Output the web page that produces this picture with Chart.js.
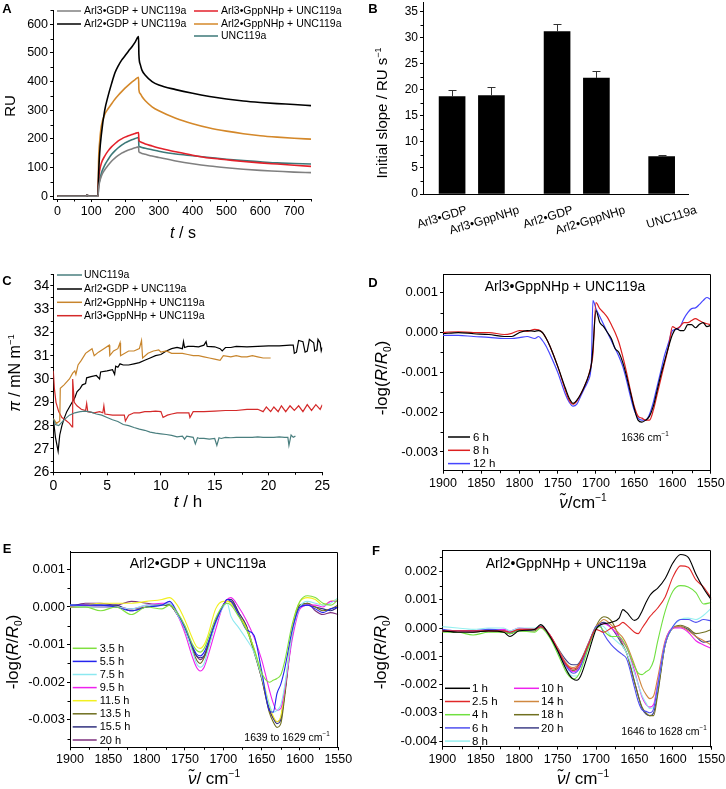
<!DOCTYPE html>
<html><head><meta charset="utf-8">
<script src="https://cdn.jsdelivr.net/npm/chart.js@4.4.1/dist/chart.umd.min.js"></script>
<style>
html,body{margin:0;padding:0;background:#fff;}
body{width:726px;height:789px;position:relative;overflow:hidden;font-family:"Liberation Sans",Arial,sans-serif;color:#000;}
canvas{position:absolute;}
.t{position:absolute;white-space:nowrap;transform:translate(-50%,-50%);line-height:1;}
.r{transform:translate(-50%,-50%) rotate(-90deg);}
.L{font-weight:bold;font-size:13px;}
sup,sub{font-size:60%;line-height:0;}
</style></head><body>
<canvas id="cA" width="363" height="245" style="left:0px;top:0px"></canvas>
<canvas id="cB" width="363" height="270" style="left:363px;top:0px"></canvas>
<canvas id="cC" width="363" height="250" style="left:0px;top:270px"></canvas>
<canvas id="cD" width="363" height="260" style="left:363px;top:270px"></canvas>
<canvas id="cE" width="363" height="259" style="left:0px;top:530px"></canvas>
<canvas id="cF" width="363" height="259" style="left:363px;top:530px"></canvas>

<div class="t L" style="left:7px;top:8px">A</div>
<div class="t L" style="left:373px;top:8px">B</div>
<div class="t L" style="left:7px;top:280px">C</div>
<div class="t L" style="left:373px;top:282px">D</div>
<div class="t L" style="left:7px;top:548px">E</div>
<div class="t L" style="left:376px;top:550px">F</div>

<div class="t r" style="left:9px;top:106px;font-size:15px">RU</div>
<div class="t" style="left:183px;top:233px;font-size:16px"><i>t</i> / s</div>
<div class="t r" style="left:381px;top:113px;font-size:15px">Initial slope / RU s<sup>−1</sup></div>
<div class="t r" style="left:15px;top:373px;font-size:16px"><i>π</i> / mN m<sup>−1</sup></div>
<div class="t" style="left:188px;top:501px;font-size:17px"><i>t</i> / h</div>
<div class="t r" style="left:381px;top:378px;font-size:17px">-log(<i>R</i>/<i>R</i><sub>0</sub>)</div>
<div class="t" style="left:583px;top:502px;font-size:17px"><i>ν&#771;</i>/cm<sup>−1</sup></div>
<div class="t r" style="left:12px;top:652px;font-size:17px">-log(<i>R</i>/<i>R</i><sub>0</sub>)</div>
<div class="t" style="left:214px;top:778px;font-size:17px"><i>ν&#771;</i>/ cm<sup>−1</sup></div>
<div class="t r" style="left:380px;top:652px;font-size:17px">-log(<i>R</i>/<i>R</i><sub>0</sub>)</div>
<div class="t" style="left:583px;top:778px;font-size:17px"><i>ν&#771;</i>/ cm<sup>−1</sup></div>

<div class="t" style="left:565px;top:286px;font-size:14px">Arl3•GppNHp + UNC119a</div>
<div class="t" style="left:198px;top:563px;font-size:14px">Arl2•GDP + UNC119a</div>
<div class="t" style="left:566px;top:563px;font-size:14px">Arl2•GppNHp + UNC119a</div>
<div class="t" style="left:645px;top:437px;font-size:10.5px">1636 cm<sup>−1</sup></div>
<div class="t" style="left:287px;top:737px;font-size:10.5px">1639 to 1629 cm<sup>−1</sup></div>
<div class="t" style="left:664px;top:731px;font-size:10.5px">1646 to 1628 cm<sup>−1</sup></div>

<script>
const FONT = '"Liberation Sans", Arial, sans-serif';

// ===== Panel A : SPR sensorgrams =====
const A_time = [0,85,88,91,119, 120,122,125,130, 140,150,160,170,180,190,200,210,220,230,240, 241,245,250,260,280,300, 350,400,450,500,550,600,650,700,750];
const A_arl3GDP     = [0,0,5,0,0, 0,30,50,70, 92,108,122,133,142,150,156,161,165,169,172, 155,152,149,146,140,135, 123,113,105,99,94,90,87,84,82];
const A_arl2GDP     = [0,0,5,0,0, 0,80,150,215, 300,350,392,430,455,475,490,506,521,538,557, 495,460,440,422,400,388, 372,359,348,339,332,327,323,320,316];
const A_arl3GppNHp  = [0,0,5,0,0, 0,60,90,115, 140,158,172,183,193,200,206,211,215,219,222, 195,190,187,182,175,168, 155,143,133,127,121,116,112,108,104];
const A_arl2GppNHp  = [0,0,5,0,0, 0,130,190,245, 285,305,322,338,352,365,377,388,398,407,415, 372,358,348,333,312,298, 272,253,238,227,218,211,206,202,199];
const A_unc119a     = [0,0,5,0,0, 0,35,55,80, 108,128,145,158,169,178,186,192,197,201,205, 175,172,170,167,162,157, 147,141,135,129,124,120,116,114,112];
const A_xTicks = [0,100,200,300,400,500,600,700];
const A_yTicks = [0,100,200,300,400,500,600];

// ===== Panel B : initial slopes =====
const B_categories = ['Arl3•GDP','Arl3•GppNHp','Arl2•GDP','Arl2•GppNHp','UNC119a'];
const B_slope = [18.7, 18.9, 31.2, 22.3, 7.2];
const B_error = [1.3, 1.6, 1.4, 1.3, 0.2];
const B_positions = [1, 2, 3.67, 4.67, 6.33];
const B_yTicks = [0,5,10,15,20,25,30,35];

// ===== Panel C : surface pressure =====
const C_unc_t = [0,0.2,0.5,1,1.5, 2,2.5,3,3.5,4, 4.5,5,5.5,6,6.5, 7,7.5,8,8.5,9, 9.5,10,10.5,11,11.5, 12,12.2,12.4,13,13.2, 13.4,13.6,14,14.5,15, 15.2,15.4,15.6,16,16.5, 17,17.5,18,18.5,19, 19.5,20,20.5,21,21.5, 21.8,21.9,22.1,22.3,22.5];
const C_unc   = [28.3,28.05,28.0,28.25,28.45, 28.55,28.6,28.62,28.58,28.5, 28.45,28.35,28.25,28.18,28.05, 28.0,27.92,27.85,27.8,27.72, 27.68,27.65,27.62,27.58,27.52, 27.55,27.42,27.55,27.5,27.22, 27.48,27.45,27.45,27.42,27.45, 27.15,27.48,27.45,27.5,27.48, 27.5,27.5,27.5,27.5,27.52, 27.5,27.5,27.5,27.52,27.5, 27.5,27.15,27.6,27.5,27.55];
const C_arl2GDP_t = [0,0.2,0.45,0.6,0.8, 1.0,1.25,1.5,1.75,2.0, 2.2,2.5,2.7,3.0,3.1, 3.5,4.0,4.3,4.4,5.0, 5.5,5.7,5.8,6.0,6.2, 6.5,7,7.5,8,8.5, 9,9.5,10,10.5,11, 11.5,12,12.1,12.2,12.5, 13,13.5,14,14.2,14.3, 15,15.5,15.7,16,16.5, 17,18,19,20,21, 22,22.3,22.4,22.6,22.8, 23.2,23.4,23.6,23.8,24.2, 24.3,24.5,24.6,24.8,24.9, 25];
const C_arl2GDP   = [28.3,27.5,26.9,27.6,28.0, 28.3,28.6,28.8,29.0,29.2, 29.45,29.6,29.75,29.8,30.05, 30.1,30.15,30.0,30.3,30.35, 30.4,30.2,30.55,30.5,30.65, 30.6,30.6,30.65,30.7,30.8, 30.9,31.0,31.05,31.2,31.3, 31.35,31.3,31.6,31.35,31.4, 31.4,31.38,31.45,31.6,31.4, 31.38,31.3,31.2,31.35,31.35, 31.4,31.38,31.4,31.42,31.42, 31.45,31.45,31.1,31.15,31.65, 31.6,31.15,31.2,31.7,31.55, 31.2,31.25,31.7,31.55,31.2, 31.35];
const C_arl2Gpp_t = [0,0.3,0.6,0.65,1.0, 1.5,1.8,2.0,2.1,2.3, 2.6,3.0,3.3,3.6,3.8, 4.2,4.7,5.2,5.25,5.6, 6.0,6.2,6.25,7.0,7.5, 8.0,8.2,8.3,8.8,9.3, 9.8,10,10.5,11,12, 12.5,13,13.5,14,14.5, 15,15.5,15.8,16.5,17, 17.5,18,18.5,19,19.5, 20.2];
const C_arl2Gpp   = [28.3,28.1,28.2,29.6,29.75, 30.0,30.25,30.35,30.2,30.6, 30.8,31.1,31.2,31.3,31.0, 31.15,31.3,31.45,31.0,31.2, 31.3,31.55,31.0,31.2,31.2, 31.3,31.65,30.9,31.1,31.2, 31.25,31.15,31.2,31.1,31.1, 31.05,31.0,31.0,30.95,30.9, 30.85,30.8,31.0,30.95,31.0, 30.95,30.95,31.0,30.95,30.9, 30.9];
const C_arl3Gpp_t = [0,0.1,0.25,0.5,0.8, 1.1,1.5,1.75,1.8,1.95, 2.2,2.6,3.0,3.1,3.2, 3.8,4.3,4.6,4.7,4.8, 5.5,6.2,6.6,6.7,7.0, 7.5,8.0,8.5,9,9.5, 10,10.2,10.6,11,11.5, 12,12.6,12.7,13,14, 15,16,17,18,19, 19.5,19.8,20.2,20.5,20.9, 21.2,21.6,22,22.4,22.8, 23.2,23.6,24,24.4,24.8, 25];
const C_arl3Gpp   = [30.35,29.6,29.0,28.6,28.35, 28.25,28.1,27.95,30.0,29.0, 28.85,28.7,28.65,28.95,28.6, 28.55,28.6,28.55,28.85,28.5, 28.45,28.45,28.45,28.2,28.45, 28.55,28.55,28.6,28.6,28.62, 28.6,28.35,28.45,28.5,28.55, 28.55,28.55,28.35,28.6,28.6, 28.62,28.65,28.65,28.7,28.7, 28.6,28.8,28.6,28.8,28.6, 28.85,28.6,28.85,28.65,28.85, 28.6,28.9,28.65,28.9,28.7, 28.9];
const C_xTicks = [0,5,10,15,20,25];
const C_yTicks = [26,27,28,29,30,31,32,33,34];

// ===== Panel D : IRRAS Arl3•GppNHp + UNC119a =====
const D_wavenumber = [1900,1880,1860,1840,1820, 1810,1800,1790,1780,1775, 1770,1765,1760,1750,1740, 1735,1730,1725,1720,1715, 1710,1706,1704,1700,1695, 1690,1685,1680,1675,1670, 1665,1660,1655,1650,1645, 1640,1635,1630,1625,1620, 1615,1610,1605,1600,1595, 1590,1585,1580,1575,1570, 1565,1560,1555,1550];
const D_6h  = [-0.03e-3,0,-0.03e-3,-0.05e-3,-0.1e-3, -0.1e-3,0,0.05e-3,0.03e-3,0.05e-3, 0,-0.15e-3,-0.35e-3,-0.85e-3,-1.4e-3, -1.65e-3,-1.78e-3,-1.7e-3,-1.55e-3,-1.35e-3, -1.1e-3,-0.8e-3,-0.4e-3,0.55e-3,0.25e-3, 0.15e-3,0,-0.15e-3,-0.4e-3,-0.5e-3, -0.75e-3,-1.1e-3,-1.5e-3,-1.9e-3,-2.2e-3, -2.25e-3,-2.2e-3,-2.1e-3,-1.85e-3,-1.45e-3, -1.05e-3,-0.7e-3,-0.35e-3,-0.05e-3,0.1e-3, 0.05e-3,0.05e-3,0.2e-3,0.2e-3,0.12e-3, 0.2e-3,0.25e-3,0.15e-3,0.18e-3];
const D_8h  = [0,0.02e-3,0,0,-0.05e-3, -0.02e-3,0.05e-3,0.03e-3,0.08e-3,0.07e-3, 0,-0.15e-3,-0.35e-3,-0.85e-3,-1.45e-3, -1.7e-3,-1.8e-3,-1.72e-3,-1.55e-3,-1.35e-3, -1.1e-3,-0.8e-3,-0.55e-3,0.75e-3,0.6e-3, 0.5e-3,0.38e-3,0.2e-3,0,-0.25e-3, -0.6e-3,-1.0e-3,-1.45e-3,-1.85e-3,-2.1e-3, -2.15e-3,-2.2e-3,-2.2e-3,-1.95e-3,-1.55e-3, -1.15e-3,-0.75e-3,-0.35e-3,0.15e-3,0.1e-3, 0.15e-3,0.25e-3,0.25e-3,0.3e-3,0.35e-3, 0.3e-3,0.25e-3,0.22e-3,0.2e-3];
const D_12h = [-0.07e-3,-0.07e-3,-0.1e-3,-0.12e-3,-0.15e-3, -0.15e-3,-0.13e-3,-0.1e-3,-0.15e-3,-0.1e-3, -0.2e-3,-0.35e-3,-0.55e-3,-1.0e-3,-1.55e-3, -1.75e-3,-1.85e-3,-1.8e-3,-1.6e-3,-1.4e-3, -1.2e-3,-0.75e-3,0.8e-3,0.6e-3,0.4e-3, 0.2e-3,0,-0.2e-3,-0.4e-3,-0.6e-3, -0.85e-3,-1.2e-3,-1.6e-3,-1.95e-3,-2.15e-3, -2.2e-3,-2.2e-3,-2.05e-3,-1.75e-3,-1.35e-3, -0.95e-3,-0.55e-3,-0.25e-3,0.05e-3,0.08e-3, 0.15e-3,0.35e-3,0.5e-3,0.6e-3,0.62e-3, 0.7e-3,0.8e-3,0.88e-3,0.83e-3];

// ===== Panel E : IRRAS Arl2•GDP + UNC119a =====
const E_wavenumber = [1900,1880,1860,1840,1820, 1800,1780,1770,1760,1750, 1740,1735,1730,1725,1720, 1710,1700,1695,1690,1680, 1670,1660,1650,1640,1635, 1630,1625,1620,1610,1600, 1590,1580,1570,1560,1550];
const E_3_5h  = [0,0,-0.1e-3,0,-0.2e-3, 0,-0.05e-3,0.05e-3,-0.15e-3,-0.5e-3, -1.0e-3,-1.15e-3,-1.2e-3,-1.1e-3,-0.85e-3, -0.3e-3,0.05e-3,0.1e-3,0.05e-3,-0.25e-3, -0.6e-3,-1.1e-3,-1.75e-3,-2.0e-3,-1.95e-3, -1.9e-3,-1.8e-3,-1.45e-3,-0.45e-3,0.15e-3, 0.3e-3,0.25e-3,0.1e-3,0.05e-3,0.2e-3];
const E_5_5h  = [0.05e-3,0.05e-3,0.05e-3,0,-0.1e-3, 0,0.05e-3,0.15e-3,-0.15e-3,-0.55e-3, -1.05e-3,-1.25e-3,-1.3e-3,-1.2e-3,-0.95e-3, -0.4e-3,0.05e-3,0.2e-3,0.15e-3,-0.2e-3, -0.6e-3,-0.75e-3,-1.7e-3,-2.75e-3,-2.8e-3, -2.3e-3,-2.05e-3,-1.65e-3,-0.6e-3,0, 0.05e-3,-0.05e-3,-0.15e-3,-0.05e-3,0];
const E_7_5h  = [0.05e-3,0,0,0,-0.05e-3, 0.05e-3,0.05e-3,0.1e-3,-0.2e-3,-0.6e-3, -1.2e-3,-1.5e-3,-1.6e-3,-1.5e-3,-1.15e-3, -0.45e-3,0,0.1e-3,-0.25e-3,-0.55e-3, -0.85e-3,-1.2e-3,-1.85e-3,-2.6e-3,-2.8e-3, -2.75e-3,-2.6e-3,-2.1e-3,-0.7e-3,0, 0.15e-3,0.1e-3,0.05e-3,0.1e-3,0.25e-3];
const E_9_5h  = [0,0.05e-3,0,0,-0.05e-3, 0.05e-3,0.1e-3,0.1e-3,-0.2e-3,-0.7e-3, -1.35e-3,-1.6e-3,-1.7e-3,-1.6e-3,-1.3e-3, -0.6e-3,0.05e-3,0.2e-3,0.25e-3,0, -0.35e-3,-0.8e-3,-1.4e-3,-2.2e-3,-2.55e-3, -2.75e-3,-2.7e-3,-2.2e-3,-0.85e-3,-0.05e-3, 0.05e-3,0.05e-3,0,0.15e-3,0.15e-3];
const E_11_5h = [0,0.05e-3,0.1e-3,0.1e-3,0.1e-3, 0.15e-3,0.2e-3,0.25e-3,0.05e-3,-0.35e-3, -0.85e-3,-1.05e-3,-1.1e-3,-1.0e-3,-0.75e-3, -0.05e-3,0.15e-3,0.15e-3,0.1e-3,-0.2e-3, -0.55e-3,-1.1e-3,-1.8e-3,-2.6e-3,-2.9e-3, -3.05e-3,-2.9e-3,-2.2e-3,-0.55e-3,0.15e-3, 0.25e-3,0.2e-3,0.05e-3,0.15e-3,0.2e-3];
const E_13_5h = [0,0,0,0,-0.05e-3, 0,0.05e-3,0.05e-3,-0.2e-3,-0.6e-3, -1.15e-3,-1.4e-3,-1.5e-3,-1.35e-3,-1.1e-3, -0.4e-3,0.05e-3,0.15e-3,0.15e-3,-0.2e-3, -0.55e-3,-1.2e-3,-1.9e-3,-2.8e-3,-3.05e-3, -3.2e-3,-3.1e-3,-2.4e-3,-0.7e-3,0.05e-3, 0.1e-3,0,-0.1e-3,-0.05e-3,0.05e-3];
const E_15_5h = [0.05e-3,0.05e-3,0.05e-3,0.05e-3,-0.1e-3, 0,0.05e-3,0.05e-3,-0.2e-3,-0.6e-3, -1.1e-3,-1.3e-3,-1.35e-3,-1.3e-3,-1.05e-3, -0.4e-3,0.05e-3,0.2e-3,0.2e-3,-0.15e-3, -0.5e-3,-1.15e-3,-1.85e-3,-2.7e-3,-2.95e-3, -3.1e-3,-3.0e-3,-2.3e-3,-0.65e-3,0.05e-3, 0.05e-3,0,-0.05e-3,-0.1e-3,0];
const E_20h   = [0,0.1e-3,0.1e-3,0.05e-3,0.15e-3, 0.1e-3,0.05e-3,0.05e-3,-0.2e-3,-0.55e-3, -1.1e-3,-1.3e-3,-1.4e-3,-1.3e-3,-1.0e-3, -0.35e-3,0.05e-3,0.2e-3,0.2e-3,-0.15e-3, -0.5e-3,-1.15e-3,-1.9e-3,-2.75e-3,-2.95e-3, -3.05e-3,-2.95e-3,-2.3e-3,-0.65e-3,0.05e-3, 0.1e-3,-0.1e-3,-0.2e-3,-0.15e-3,-0.2e-3];

// ===== Panel F : IRRAS Arl2•GppNHp + UNC119a =====
const F_wavenumber = [1900,1880,1860,1840,1820, 1812,1800,1780,1772,1760, 1750,1740,1735,1730,1725, 1720,1710,1700,1695,1690, 1680,1670,1665,1660,1650, 1645,1640,1635,1630,1625, 1620,1610,1600,1590,1580, 1570,1560,1550];
const F_1h   = [-0.1e-3,-0.15e-3,-0.15e-3,-0.1e-3,-0.15e-3, -0.3e-3,-0.1e-3,-0.05e-3,0.12e-3,-0.3e-3, -0.8e-3,-1.4e-3,-1.65e-3,-1.8e-3,-1.85e-3, -1.7e-3,-0.9e-3,-0.05e-3,0.1e-3,0.15e-3, 0.2e-3,0.35e-3,0.65e-3,0.55e-3,0.27e-3, 0.35e-3,0.6e-3,0.9e-3,1.15e-3,1.3e-3, 1.4e-3,1.75e-3,2.3e-3,2.6e-3,2.5e-3, 1.9e-3,1.4e-3,1.0e-3];
const F_2_5h = [-0.1e-3,-0.1e-3,-0.1e-3,-0.1e-3,-0.1e-3, -0.15e-3,-0.05e-3,-0.05e-3,0.05e-3,-0.25e-3, -0.75e-3,-1.25e-3,-1.4e-3,-1.45e-3,-1.4e-3, -1.2e-3,-0.6e-3,-0.05e-3,-0.1e-3,-0.15e-3, 0,0.1e-3,0.2e-3,0.1e-3,-0.15e-3, -0.2e-3,0,0.2e-3,0.4e-3,0.55e-3, 0.7e-3,1.1e-3,1.8e-3,2.2e-3,2.15e-3, 1.7e-3,1.45e-3,1.05e-3];
const F_4h   = [-0.15e-3,-0.15e-3,-0.25e-3,-0.15e-3,-0.15e-3, -0.2e-3,-0.1e-3,-0.15e-3,0,-0.35e-3, -0.9e-3,-1.5e-3,-1.7e-3,-1.8e-3,-1.75e-3, -1.5e-3,-0.7e-3,0,0.05e-3,-0.1e-3, -0.3e-3,-0.3e-3,-0.45e-3,-0.7e-3,-1.35e-3, -1.6e-3,-1.65e-3,-1.55e-3,-1.45e-3,-1.15e-3, -0.5e-3,0.6e-3,1.3e-3,1.5e-3,1.45e-3, 1.25e-3,0.85e-3,0.9e-3];
const F_6h   = [-0.05e-3,-0.1e-3,-0.1e-3,-0.05e-3,-0.1e-3, -0.15e-3,-0.1e-3,-0.05e-3,0.05e-3,-0.3e-3, -0.8e-3,-1.3e-3,-1.5e-3,-1.6e-3,-1.55e-3, -1.35e-3,-0.6e-3,0.05e-3,0.1e-3,-0.2e-3, -0.6e-3,-0.85e-3,-0.95e-3,-1.1e-3,-2.1e-3, -2.6e-3,-2.9e-3,-2.95e-3,-3.0e-3,-2.85e-3, -2.1e-3,-0.55e-3,0.05e-3,0.3e-3,0.3e-3, 0.2e-3,0.3e-3,0.25e-3];
const F_8h   = [0.05e-3,0,-0.05e-3,0,0, -0.1e-3,0,0,0.1e-3,-0.3e-3, -0.85e-3,-1.4e-3,-1.6e-3,-1.7e-3,-1.7e-3, -1.5e-3,-0.7e-3,0,0.1e-3,0.05e-3, -0.3e-3,-0.55e-3,-0.65e-3,-0.9e-3,-1.6e-3, -2.0e-3,-2.4e-3,-2.65e-3,-2.85e-3,-2.8e-3, -2.1e-3,-0.55e-3,0.05e-3,0.3e-3,0.35e-3, 0.3e-3,0.45e-3,0.7e-3];
const F_10h  = [-0.1e-3,-0.1e-3,-0.1e-3,-0.1e-3,-0.05e-3, -0.1e-3,0,-0.05e-3,0.05e-3,-0.25e-3, -0.75e-3,-1.25e-3,-1.45e-3,-1.55e-3,-1.5e-3, -1.3e-3,-0.6e-3,0,0.1e-3,0.15e-3, 0,-0.3e-3,-0.5e-3,-0.7e-3,-1.5e-3, -2.0e-3,-2.45e-3,-2.7e-3,-2.8e-3,-2.7e-3, -2.0e-3,-0.5e-3,0,0,-0.15e-3, -0.45e-3,-0.6e-3,-0.72e-3];
const F_14h  = [-0.1e-3,-0.1e-3,-0.1e-3,-0.1e-3,-0.1e-3, -0.15e-3,-0.05e-3,-0.05e-3,0.05e-3,-0.25e-3, -0.7e-3,-1.2e-3,-1.35e-3,-1.4e-3,-1.35e-3, -1.2e-3,-0.55e-3,0.05e-3,0.2e-3,0.3e-3, 0.1e-3,-0.2e-3,-0.35e-3,-0.6e-3,-1.3e-3, -1.7e-3,-2.1e-3,-2.35e-3,-2.5e-3,-2.4e-3, -1.8e-3,-0.45e-3,0,0.05e-3,-0.1e-3, -0.3e-3,-0.45e-3,-0.6e-3];
const F_18h  = [-0.1e-3,-0.1e-3,-0.15e-3,-0.1e-3,-0.15e-3, -0.2e-3,-0.1e-3,-0.1e-3,0.05e-3,-0.3e-3, -0.75e-3,-1.3e-3,-1.45e-3,-1.5e-3,-1.45e-3, -1.3e-3,-0.65e-3,0.05e-3,0.3e-3,0.4e-3, 0.25e-3,-0.3e-3,-0.6e-3,-0.9e-3,-1.9e-3, -2.4e-3,-2.8e-3,-3.0e-3,-3.1e-3,-3.1e-3, -2.4e-3,-0.6e-3,0,0.1e-3,0, -0.2e-3,-0.15e-3,-0.05e-3];
const F_20h  = [-0.1e-3,-0.1e-3,-0.1e-3,-0.1e-3,-0.1e-3, -0.2e-3,-0.05e-3,-0.05e-3,0.1e-3,-0.25e-3, -0.7e-3,-1.1e-3,-1.25e-3,-1.3e-3,-1.3e-3, -1.15e-3,-0.55e-3,0.05e-3,0.15e-3,0.2e-3, 0,-0.4e-3,-0.65e-3,-0.9e-3,-1.9e-3, -2.4e-3,-2.85e-3,-3.05e-3,-3.1e-3,-3.0e-3, -2.3e-3,-0.6e-3,0,0.05e-3,-0.05e-3, -0.3e-3,-0.5e-3,-0.45e-3];

const IR_xTicks = [1900,1850,1800,1750,1700,1650,1600,1550];
const DE_yTicks = [0.001,0,-0.001,-0.002,-0.003];
const F_yTicks  = [0.002,0.001,0,-0.001,-0.002,-0.003,-0.004];

// ===== decorations (layout only) =====
const DECOR = {
  cA: {minor: true, legend: {size: 10.5, len: 24, gap: 3, items: [{ds:0,x:57,y:11},{ds:1,x:57,y:24},{ds:2,x:194,y:11},{ds:3,x:194,y:24},{ds:4,x:194,y:36}]}},
  cB: {minorY: true, err: B_error, catLabels: {size: 12, angle: 17, y: 210, shift: [-10, -7, -9, -6, 10]}},
  cC: {minor: true, legend: {size: 10.5, len: 25, gap: 2, items: [{ds:0,x:57,y:5},{ds:3,x:57,y:19},{ds:1,x:57,y:32.3},{ds:2,x:57,y:45.7}]}},
  cD: {minor: true, box: true, legend: {size: 11.5, len: 22, gap: 3, items: [{ds:0,x:85,y:167},{ds:1,x:85,y:180.3},{ds:2,x:85,y:193.6}]}},
  cE: {minor: true, box: true, legend: {size: 11, len: 24, gap: 3, items: [0,1,2,3,4,5,6,7].map(i => ({ds:i, x:72.7, y:118.3 + 13.1*i}))}},
  cF: {minor: true, box: true, legend: {size: 11.5, len: 25, gap: 2, items: [0,1,2,3,4].map(i => ({ds:i, x:82, y:158.3 + 13.2*i})).concat([5,6,7,8].map(i => ({ds:i, x:151, y:158.3 + 13.2*(i-5)})))}}
};

const decorPlugin = {
  id: 'decor',
  afterDatasetsDraw(chart) {
    const d = DECOR[chart.canvas.id]; if (!d || !d.err) return;
    const ctx = chart.ctx, ys = chart.scales.y, meta = chart.getDatasetMeta(0);
    ctx.save(); ctx.strokeStyle = '#333'; ctx.lineWidth = 1; ctx.beginPath();
    meta.data.forEach((bar, i) => {
      const v = chart.data.datasets[0].data[i].y;
      const top = Math.round(ys.getPixelForValue(v + d.err[i])) + 0.5;
      const x = Math.round(bar.x) + 0.5;
      ctx.moveTo(x, bar.y); ctx.lineTo(x, top);
      ctx.moveTo(x - 4, top); ctx.lineTo(x + 4, top);
    });
    ctx.stroke(); ctx.restore();
  },
  afterDraw(chart) {
    const d = DECOR[chart.canvas.id]; if (!d) return;
    const ctx = chart.ctx, a = chart.chartArea;
    ctx.save(); ctx.strokeStyle = '#000'; ctx.lineWidth = 1;
    if (d.box) {
      const l = Math.round(a.left) + 0.5, t = Math.round(a.top) + 0.5, r = Math.round(a.right) - 0.5, b = Math.round(a.bottom) + 0.5;
      ctx.beginPath(); ctx.moveTo(l, t); ctx.lineTo(r, t); ctx.lineTo(r, b); ctx.stroke();
    }
    const ids = d.minor ? ['x','y'] : (d.minorY ? ['y'] : []);
    ids.forEach(id => {
      const s = chart.scales[id];
      const maj = s.ticks.map(t => t.value).sort((p, q) => p - q);
      const step = maj[1] - maj[0];
      const lo = Math.min(s.min, s.max), hi = Math.max(s.min, s.max);
      ctx.beginPath();
      for (let k = -1; k < maj.length; k++) {
        const v = maj[0] + step * (k + 0.5);
        if (v < lo || v > hi) continue;
        const p = Math.round(s.getPixelForValue(v)) + 0.5;
        if (s.isHorizontal()) { ctx.moveTo(p, s.top); ctx.lineTo(p, s.top + 2.5); }
        else { ctx.moveTo(s.right, p); ctx.lineTo(s.right - 2.5, p); }
      }
      ctx.stroke();
    });
    if (d.catLabels) {
      const c = d.catLabels, xs = chart.scales.x, th = c.angle * Math.PI / 180;
      ctx.font = c.size + 'px ' + FONT; ctx.fillStyle = '#000'; ctx.textAlign = 'center'; ctx.textBaseline = 'middle';
      B_categories.forEach((name, i) => {
        const w = ctx.measureText(name).width;
        const xc = xs.getPixelForValue(B_positions[i]) + c.shift[i];
        const yc = c.y + w * Math.sin(th) / 2;
        ctx.save(); ctx.translate(xc, yc); ctx.rotate(-th); ctx.fillText(name, 0, 0); ctx.restore();
      });
    }
    if (d.legend) {
      const L = d.legend;
      ctx.font = L.size + 'px ' + FONT; ctx.textBaseline = 'middle'; ctx.textAlign = 'left'; ctx.fillStyle = '#000';
      L.items.forEach(it => {
        const ds = chart.data.datasets[it.ds];
        ctx.strokeStyle = ds.borderColor; ctx.lineWidth = 1.5;
        ctx.beginPath(); ctx.moveTo(it.x, it.y); ctx.lineTo(it.x + L.len, it.y); ctx.stroke();
        ctx.fillText(ds.label, it.x + L.len + L.gap, it.y + 0.5);
      });
    }
    ctx.restore();
  }
};
Chart.register(decorPlugin);

function pts(xs, ys) { return xs.map((x, i) => ({x: x, y: ys[i]})); }
function line(label, xs, ys, color, w, smooth) {
  return {label: label, data: pts(xs, ys), borderColor: color, backgroundColor: color, borderWidth: w,
          pointRadius: 0, fill: false, tension: 0, cubicInterpolationMode: smooth ? 'monotone' : 'default'};
}
function axis(o) {
  const horiz = o.pos === 'bottom';
  return {
    type: 'linear', position: o.pos, min: o.min, max: o.max, reverse: !!o.reverse, offset: false,
    afterBuildTicks: s => { s.ticks = o.ticks.map(v => ({value: v})); },
    afterFit: horiz ? (s => { s.height = o.size; s.paddingLeft = 0; s.paddingRight = 0; })
                    : (s => { s.width = o.size; s.paddingTop = 0; s.paddingBottom = 0; }),
    ticks: {display: o.labels !== false, autoSkip: false, maxRotation: 0, minRotation: 0, padding: o.pad === undefined ? 2 : o.pad,
            color: '#000', font: {family: FONT, size: o.fs}, callback: o.fmt || (v => String(v))},
    grid: {display: o.marks !== false, offset: false, drawOnChartArea: false, drawTicks: true, tickLength: 3, color: '#000', lineWidth: 1},
    border: {display: true, color: '#000', width: 1}
  };
}
function opts(padding, x, y) {
  return {responsive: false, animation: false, devicePixelRatio: 1, events: [],
          layout: {padding: padding}, scales: {x: x, y: y},
          plugins: {legend: {display: false}, tooltip: {enabled: false}, title: {display: false}}};
}
const irFmt = v => v.toFixed(3);

// Panel A
new Chart(document.getElementById('cA'), {type: 'line', data: {datasets: [
  line('Arl3•GDP + UNC119a', A_time, A_arl3GDP, '#808080', 1.6, true),
  line('Arl2•GDP + UNC119a', A_time, A_arl2GDP, '#000000', 1.6, true),
  line('Arl3•GppNHp + UNC119a', A_time, A_arl3GppNHp, '#e3212b', 1.6, true),
  line('Arl2•GppNHp + UNC119a', A_time, A_arl2GppNHp, '#d4882a', 1.6, true),
  line('UNC119a', A_time, A_unc119a, '#3c7878', 1.6, true)
]}, options: opts({left: 0, top: 10, right: 52, bottom: 0},
  axis({pos: 'bottom', min: -13, max: 750, ticks: A_xTicks, size: 46, fs: 12.5}),
  axis({pos: 'left', min: -10, max: 650, ticks: A_yTicks, size: 53, fs: 12.5}))});

// Panel B
new Chart(document.getElementById('cB'), {type: 'bar', data: {datasets: [{
  label: 'Initial slope', data: pts(B_positions, B_slope), backgroundColor: '#000', borderColor: '#222', borderWidth: 0, barThickness: 26
}]}, options: opts({left: 0, top: 2, right: 38, bottom: 0},
  axis({pos: 'bottom', min: 0.26, max: 7.0, ticks: B_positions, size: 76, fs: 12, marks: false, labels: false}),
  axis({pos: 'left', min: 0, max: 36.9, ticks: B_yTicks, size: 60, fs: 12}))});

// Panel C
new Chart(document.getElementById('cC'), {type: 'line', data: {datasets: [
  line('UNC119a', C_unc_t, C_unc, '#4a7f7f', 1.2, false),
  line('Arl2•GppNHp + UNC119a', C_arl2Gpp_t, C_arl2Gpp, '#c8852c', 1.2, false),
  line('Arl3•GppNHp + UNC119a', C_arl3Gpp_t, C_arl3Gpp, '#d42a2a', 1.2, false),
  line('Arl2•GDP + UNC119a', C_arl2GDP_t, C_arl2GDP, '#000000', 1.2, false)
]}, options: opts({left: 0, top: 4, right: 40.7, bottom: 0},
  axis({pos: 'bottom', min: 0, max: 25, ticks: C_xTicks, size: 47.7, fs: 14}),
  axis({pos: 'left', min: 26, max: 34.5, ticks: C_yTicks, size: 53.3, fs: 14, pad: 1}))});

// Panel D
new Chart(document.getElementById('cD'), {type: 'line', data: {datasets: [
  line('6 h', D_wavenumber, D_6h, '#000000', 1.2, true),
  line('8 h', D_wavenumber, D_8h, '#dd2020', 1.2, true),
  line('12 h', D_wavenumber, D_12h, '#4646ff', 1.2, true)
]}, options: opts({left: 0, top: 4, right: 15.3, bottom: 0},
  axis({pos: 'bottom', min: 1550, max: 1900, reverse: true, ticks: IR_xTicks, size: 59.3, fs: 12.5}),
  axis({pos: 'left', min: -0.00347, max: 0.00147, ticks: DE_yTicks, size: 80, fs: 13, fmt: irFmt}))});

// Panel E
new Chart(document.getElementById('cE'), {type: 'line', data: {datasets: [
  line('3.5 h', E_wavenumber, E_3_5h, '#80e040', 1.1, true),
  line('5.5 h', E_wavenumber, E_5_5h, '#2424ee', 1.1, true),
  line('7.5 h', E_wavenumber, E_7_5h, '#8ce8f0', 1.1, true),
  line('9.5 h', E_wavenumber, E_9_5h, '#ee22ee', 1.1, true),
  line('11.5 h', E_wavenumber, E_11_5h, '#f2f020', 1.1, true),
  line('13.5 h', E_wavenumber, E_13_5h, '#6e6e1e', 1.1, true),
  line('15.5 h', E_wavenumber, E_15_5h, '#30307e', 1.1, true),
  line('20 h', E_wavenumber, E_20h, '#7e307e', 1.1, true)
]}, options: opts({left: 0, top: 21.7, right: 24.7, bottom: 0},
  axis({pos: 'bottom', min: 1550, max: 1900, reverse: true, ticks: IR_xTicks, size: 41.7, fs: 12.5}),
  axis({pos: 'left', min: -0.00373, max: 0.00147, ticks: DE_yTicks, size: 70, fs: 13, fmt: irFmt}))});

// Panel F
new Chart(document.getElementById('cF'), {type: 'line', data: {datasets: [
  line('1 h', F_wavenumber, F_1h, '#000000', 1.1, true),
  line('2.5 h', F_wavenumber, F_2_5h, '#e02828', 1.1, true),
  line('4 h', F_wavenumber, F_4h, '#70e040', 1.1, true),
  line('6 h', F_wavenumber, F_6h, '#5050f0', 1.1, true),
  line('8 h', F_wavenumber, F_8h, '#96f0f0', 1.1, true),
  line('10 h', F_wavenumber, F_10h, '#ee22ee', 1.1, true),
  line('14 h', F_wavenumber, F_14h, '#d08840', 1.1, true),
  line('18 h', F_wavenumber, F_18h, '#707020', 1.1, true),
  line('20 h', F_wavenumber, F_20h, '#404088', 1.1, true)
]}, options: opts({left: 0, top: 20, right: 14.7, bottom: 0},
  axis({pos: 'bottom', min: 1550, max: 1900, reverse: true, ticks: IR_xTicks, size: 42.3, fs: 12.5}),
  axis({pos: 'left', min: -0.0042, max: 0.00276, ticks: F_yTicks, size: 79.3, fs: 13, fmt: irFmt}))});
</script>
</body></html>
